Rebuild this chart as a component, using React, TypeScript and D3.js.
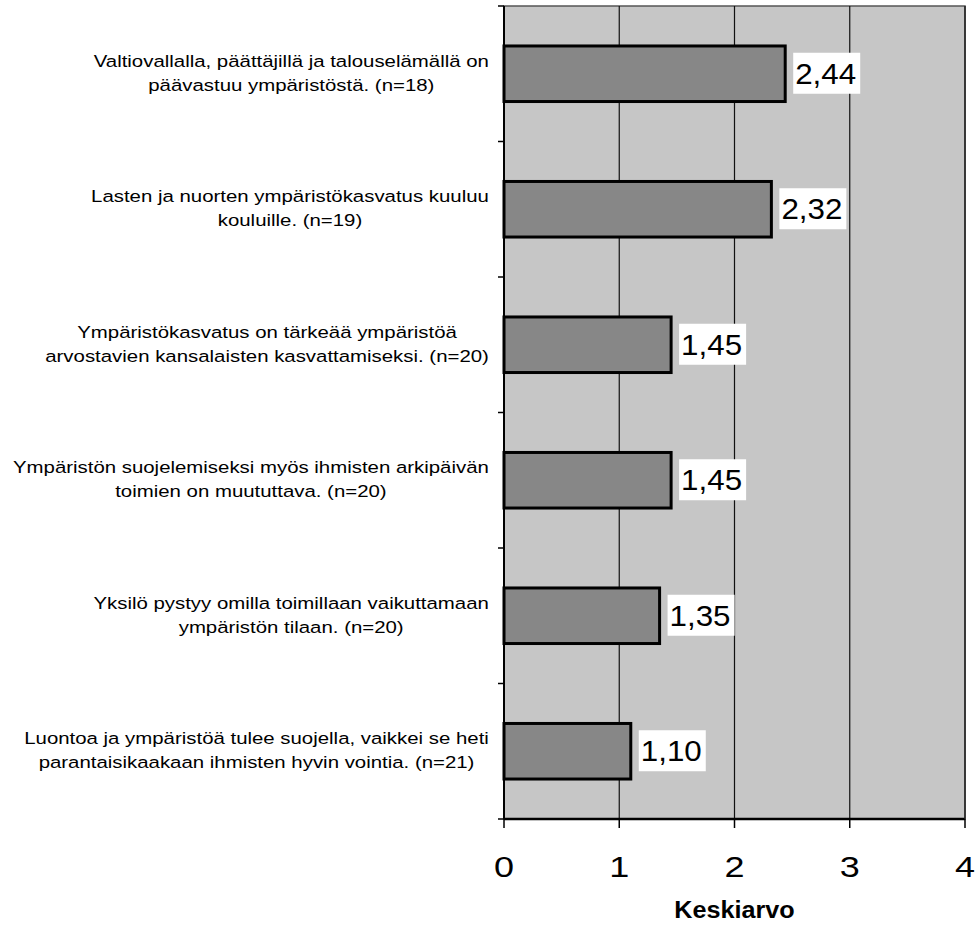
import React, { useEffect, useRef } from "react";
import * as d3 from "d3";

const categories: string[][] = [
  ["Valtiovallalla, päättäjillä ja talouselämällä on", "päävastuu ympäristöstä. (n=18)"],
  ["Lasten ja nuorten ympäristökasvatus kuuluu", "kouluille. (n=19)"],
  ["Ympäristökasvatus on tärkeää ympäristöä", "arvostavien kansalaisten kasvattamiseksi. (n=20)"],
  ["Ympäristön suojelemiseksi myös ihmisten arkipäivän", "toimien on muututtava. (n=20)"],
  ["Yksilö pystyy omilla toimillaan vaikuttamaan", "ympäristön tilaan. (n=20)"],
  ["Luontoa ja ympäristöä tulee suojella, vaikkei se heti", "parantaisikaakaan ihmisten hyvin vointia. (n=21)"],
];
const values: number[] = [2.44, 2.32, 1.45, 1.45, 1.35, 1.1];
const xTicks: number[] = [0, 1, 2, 3, 4];
const xTitle = "Keskiarvo";

const W = 975;
const H = 926;
const FONT = "Arial, 'Liberation Sans', sans-serif";
// the scanned original is a bit stretched sideways
const STRETCH = 1.2;

export default function App() {
  const svgRef = useRef<SVGSVGElement>(null);

  useEffect(() => {
    if (!svgRef.current) return;
    const svg = d3.select(svgRef.current);
    svg.selectAll("*").remove();

    const left = 504;
    const right = 965;
    const top = 6;
    const bottom = 819;

    const x = d3.scaleLinear().domain([0, 4]).range([left, right]);
    const y = d3
      .scaleBand<number>()
      .domain(d3.range(values.length))
      .range([top, bottom])
      .paddingInner(0.59)
      .paddingOuter(0.295);
    const band = d3
      .scaleBand<number>()
      .domain(d3.range(values.length))
      .range([top, bottom]);

    // plot background
    svg
      .append("rect")
      .attr("x", left)
      .attr("y", top)
      .attr("width", right - left)
      .attr("height", bottom - top)
      .attr("fill", "#c6c6c6")
      .attr("stroke", "#555")
      .attr("stroke-width", 1.5);

    // vertical gridlines
    svg
      .selectAll(".grid")
      .data(xTicks.slice(1, -1))
      .enter()
      .append("line")
      .attr("x1", (d) => x(d))
      .attr("x2", (d) => x(d))
      .attr("y1", top)
      .attr("y2", bottom)
      .attr("stroke", "#111")
      .attr("stroke-width", 1.2);

    // bars
    svg
      .selectAll(".bar")
      .data(values)
      .enter()
      .append("rect")
      .attr("x", x(0))
      .attr("y", (_, i) => y(i)!)
      .attr("width", (d) => x(d) - x(0))
      .attr("height", y.bandwidth())
      .attr("fill", "#878787")
      .attr("stroke", "#000")
      .attr("stroke-width", 3);

    // value labels with white boxes
    const vl = svg
      .selectAll(".val")
      .data(values)
      .enter()
      .append("g")
      .attr("transform", (d, i) => `translate(${x(d) + 10},${y(i)! + y.bandwidth() / 2})`);
    vl.append("rect")
      .attr("x", -2)
      .attr("y", -21)
      .attr("width", 67)
      .attr("height", 41)
      .attr("fill", "#fff");
    vl.append("text")
      .attr("transform", "translate(0,10) scale(1.08,1)")
      .attr("font-family", FONT)
      .attr("font-size", 29)
      .attr("fill", "#000")
      .text((d) => d.toFixed(2).replace(".", ","));

    // axes lines
    svg
      .append("line")
      .attr("x1", left)
      .attr("x2", left)
      .attr("y1", top)
      .attr("y2", bottom)
      .attr("stroke", "#000")
      .attr("stroke-width", 2);
    svg
      .append("line")
      .attr("x1", left)
      .attr("x2", right)
      .attr("y1", bottom)
      .attr("y2", bottom)
      .attr("stroke", "#000")
      .attr("stroke-width", 2.5);
    svg
      .append("line")
      .attr("x1", right)
      .attr("x2", right)
      .attr("y1", top)
      .attr("y2", bottom)
      .attr("stroke", "#222")
      .attr("stroke-width", 1.5);

    // left ticks at band boundaries
    svg
      .selectAll(".ytick")
      .data(d3.range(values.length + 1))
      .enter()
      .append("line")
      .attr("x1", left - 6)
      .attr("x2", left)
      .attr("y1", (i) => (i < values.length ? band(i)! : bottom))
      .attr("y2", (i) => (i < values.length ? band(i)! : bottom))
      .attr("stroke", "#000")
      .attr("stroke-width", 1.5);

    // bottom ticks
    svg
      .selectAll(".xtick")
      .data(xTicks)
      .enter()
      .append("line")
      .attr("x1", (d) => x(d))
      .attr("x2", (d) => x(d))
      .attr("y1", bottom)
      .attr("y2", bottom + 9)
      .attr("stroke", "#000")
      .attr("stroke-width", 1.5);

    svg
      .selectAll(".xlab")
      .data(xTicks)
      .enter()
      .append("text")
      .attr("transform", (d) => `translate(${x(d)},877) scale(${STRETCH},1)`)
      .attr("text-anchor", "middle")
      .attr("font-family", FONT)
      .attr("font-size", 30)
      .attr("fill", "#000")
      .text((d) => String(d));

    svg
      .append("text")
      .attr("transform", `translate(${x(2)},918) scale(1.05,1)`)
      .attr("text-anchor", "middle")
      .attr("font-family", FONT)
      .attr("font-size", 24)
      .attr("font-weight", "bold")
      .attr("fill", "#000")
      .text(xTitle);

    // category labels: each line centered, block right-aligned
    const labelRight = 489;
    categories.forEach((lines, i) => {
      const cy = y(i)! + y.bandwidth() / 2 - 1;
      const g = svg.append("g");
      const t = g
        .append("text")
        .attr("font-family", FONT)
        .attr("font-size", 17)
        .attr("fill", "#000")
        .attr("text-anchor", "middle");
      lines.forEach((ln, j) => {
        t.append("tspan")
          .attr("x", 0)
          .attr("y", (j - (lines.length - 1) / 2) * 24 + 6)
          .text(ln);
      });
      let maxW = 0;
      t.selectAll<SVGTSpanElement, unknown>("tspan").each(function () {
        maxW = Math.max(maxW, this.getComputedTextLength());
      });
      const cx = labelRight - (maxW * STRETCH) / 2;
      g.attr("transform", `translate(${cx},${cy}) scale(${STRETCH},1)`);
    });
  }, []);

  return (
    <svg
      ref={svgRef}
      width={W}
      height={H}
      style={{ position: "absolute", left: 0, top: 0, background: "#fff" }}
    />
  );
}
